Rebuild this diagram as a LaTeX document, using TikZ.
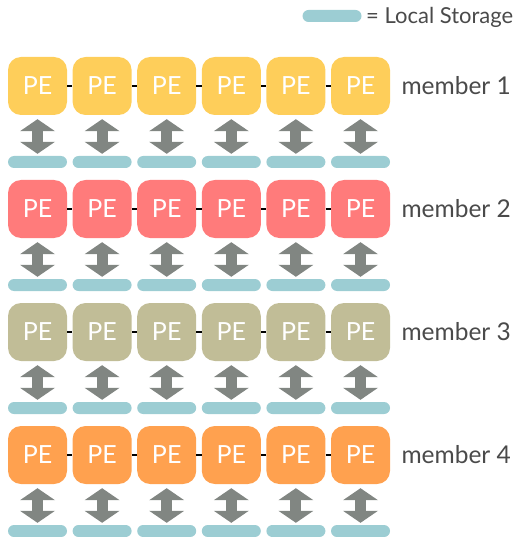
\documentclass[tikz,border=0pt]{standalone}
\usepackage{fontspec}
\setmainfont{Lato}
\usetikzlibrary{arrows.meta}

\definecolor{peyellow}{HTML}{FECE5A}
\definecolor{pered}{HTML}{FF7B7B}
\definecolor{peolive}{HTML}{C1BD97}
\definecolor{peorange}{HTML}{FFA14F}
\definecolor{storecol}{HTML}{9CCDD3}
\definecolor{arrowgrey}{HTML}{818682}
\definecolor{labelgrey}{HTML}{4A4A4A}

\tikzset{
  pe/.style={rounded corners=13pt, minimum width=59pt, minimum height=58pt,
    inner sep=0pt, text=white, font=\fontsize{25}{25}\selectfont},
  store/.style={fill=storecol, rounded corners=6pt, minimum width=59pt,
    minimum height=12pt, inner sep=0pt},
  link/.style={black, line width=1.2pt},
  access/.style={arrowgrey, line width=11pt,
    {Triangle[width=35pt,length=12pt,line width=0pt]}-{Triangle[width=35pt,length=12pt,line width=0pt]},
    shorten <=4pt, shorten >=2pt},
  member/.style={anchor=west, text=labelgrey, font=\fontsize{24.5}{24.5}\selectfont}
}

\begin{document}
\begin{tikzpicture}[x=1pt,y=-1pt]
  \useasboundingbox (0,0) rectangle (521,537);

  % legend
  \node[store] (key) at (332,16) {};
  \node[anchor=west, text=labelgrey, font=\fontsize{22}{22}\selectfont,
    inner sep=0pt] (keytext) at (366,17) {= Local Storage};

  % one row of processing elements per member
  \foreach \r/\col in {1/peyellow, 2/pered, 3/peolive, 4/peorange} {
    \pgfmathsetmacro{\yc}{86+123*(\r-1)}
    \foreach \c in {1,...,6} {
      \pgfmathsetmacro{\xc}{37.5+64.6*(\c-1)}
      \node[pe, fill=\col] (pe-\r-\c) at (\xc,\yc) {PE};
      \node[store] (st-\r-\c) at (\xc,\yc+76) {};
      \draw[access] (pe-\r-\c.south) -- (st-\r-\c.north);
    }
    \foreach \c [evaluate=\c as \n using int(\c+1)] in {1,...,5}
      \draw[link] (pe-\r-\c.east) -- (pe-\r-\n.west);
    \node[member] (lab-\r) at (398,\yc) {member \r};
  }
\end{tikzpicture}
\end{document}
